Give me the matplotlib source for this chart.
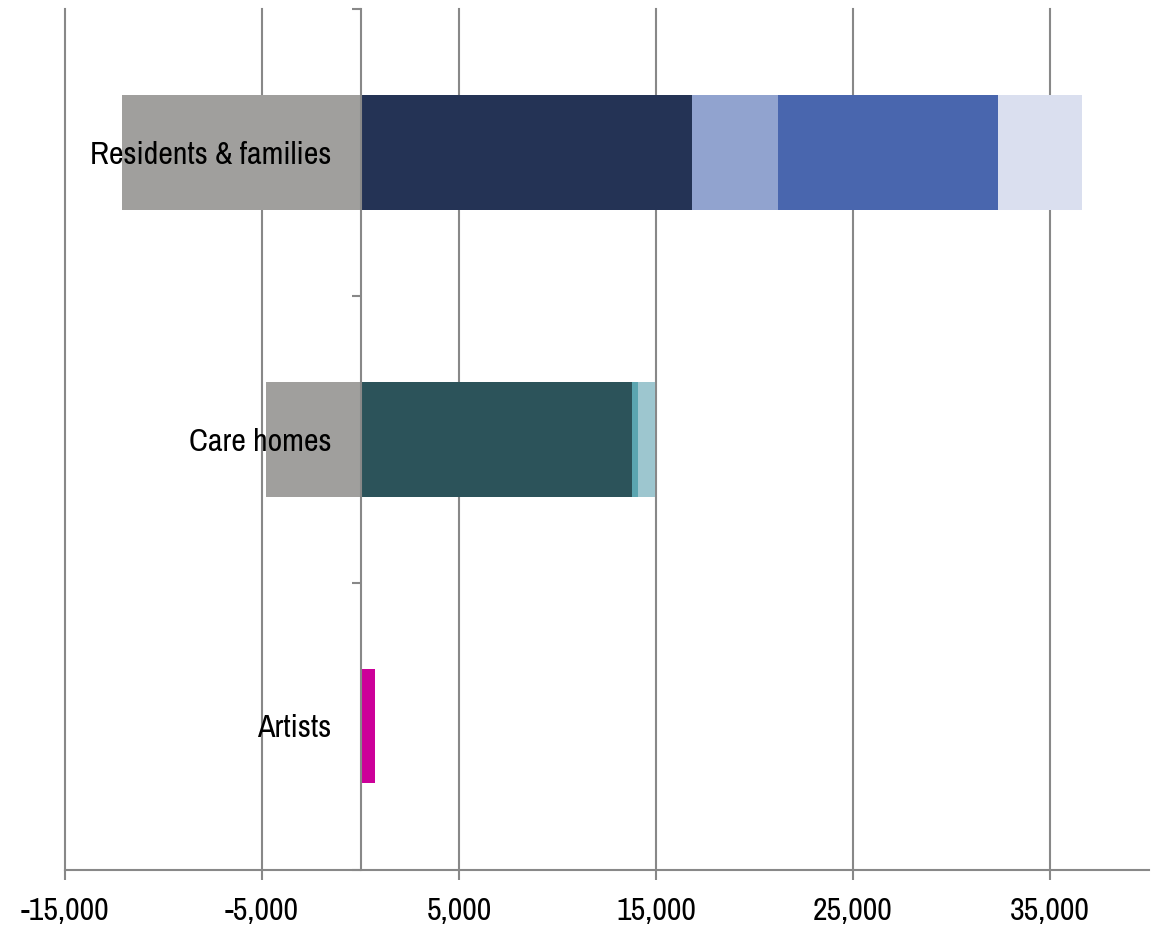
import matplotlib
matplotlib.use("Agg")
import matplotlib.pyplot as plt
from matplotlib.ticker import FuncFormatter, FixedLocator
from matplotlib import font_manager

# ---- data ----
categories = ["Artists", "Care homes", "Residents & families"]  # bottom to top
negative_values = [0, -4820, -12100]
residents_segments = [16850, 4320, 11170, 4260]
care_home_segments = [13760, 350, 840]
artist_segments = [750]
x_ticks = [-15000, -5000, 5000, 15000, 25000, 35000]

# ---- styles ----
grey = "#A09F9D"
residents_colors = ["#243355", "#91A3CF", "#4966AE", "#DADFEF"]
care_colors = ["#2C535A", "#5BA5B0", "#9DC6CF"]
artist_colors = ["#CC0099"]
axis_grey = "#888888"

names = {f.name for f in font_manager.fontManager.ttflist}
if "Archivo Narrow" in names:
    family, fsize = ["Archivo Narrow"], 23
else:
    family, fsize = ["Liberation Sans"], 19
plt.rcParams["font.family"] = family + ["DejaVu Sans"]

fig = plt.figure(figsize=(11.57, 9.27), dpi=100)
ax = fig.add_axes([65 / 1157, 1 - 869.5 / 927, (1148.5 - 65) / 1157, (869.5 - 9) / 927])

ypos = list(range(len(categories)))
bar_h = 0.4

# negative grey bars
ax.barh(ypos, negative_values, height=bar_h, color=grey, zorder=2)

def stack(y, segs, cols):
    left = 0
    for v, c in zip(segs, cols):
        ax.barh(y, v, left=left, height=bar_h, color=c, zorder=2)
        left += v

stack(0, artist_segments, artist_colors)
stack(1, care_home_segments, care_colors)
stack(2, residents_segments, residents_colors)

ax.set_xlim(-15000, 40000)
ax.set_ylim(-0.5, len(categories) - 0.5)

# x axis
ax.xaxis.set_major_locator(FixedLocator(x_ticks))
ax.xaxis.set_major_formatter(FuncFormatter(lambda v, p: f"{int(v):,}"))
ax.tick_params(axis="x", direction="out", length=7.5, width=1.5, color=axis_grey,
               labelsize=fsize, pad=12.5, labelcolor="black")
ax.grid(axis="x", color=axis_grey, linewidth=1.5, zorder=0)
ax.set_axisbelow(True)
for gl in ax.get_xgridlines():
    gl.set_clip_on(False)

# y axis at x=0
ax.spines["left"].set_position(("data", 0))
ax.spines["left"].set_color(axis_grey)
ax.spines["left"].set_linewidth(1.5)
ax.spines["left"].set_zorder(3)
ax.spines["bottom"].set_color(axis_grey)
ax.spines["bottom"].set_linewidth(1.5)
ax.spines["top"].set_visible(False)
ax.spines["right"].set_visible(False)
ax.yaxis.set_major_locator(FixedLocator([y - 0.5 for y in range(len(categories) + 1)]))
ax.yaxis.set_major_formatter(FuncFormatter(lambda v, p: ""))
ax.tick_params(axis="y", direction="out", length=6.5, width=1.5, color=axis_grey)

for y, name in zip(ypos, categories):
    ax.annotate(name, xy=(0, y), xytext=(-21, -8.2), textcoords="offset points",
                ha="right", va="baseline", fontsize=fsize, color="black", zorder=5,
                annotation_clip=False)

fig.savefig("out.png", dpi=100)
